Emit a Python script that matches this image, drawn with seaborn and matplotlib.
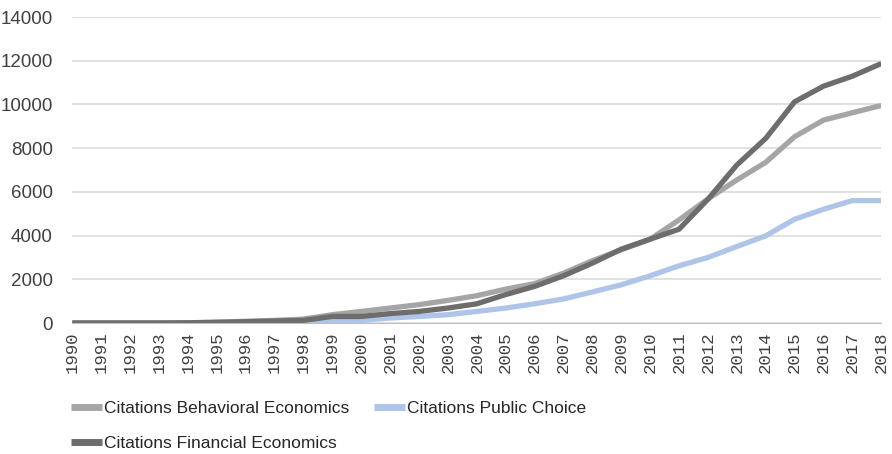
import pandas as pd
import matplotlib
matplotlib.use("Agg")
import matplotlib.pyplot as plt
import seaborn as sns

years = list(range(1990, 2019))

# citations per year
behavioral = [0, 0, 0, 0, 10, 40, 80, 120, 180, 380, 530, 685, 840, 1035, 1250,
              1550, 1800, 2280, 2850, 3350, 3836, 4718, 5677, 6545, 7352,
              8524, 9285, 9620, 9954]
public_choice = [0, 0, 0, 0, 0, 0, 0, 0, 0, 76, 120, 230, 300, 380, 530,
                 685, 880, 1100, 1420, 1750, 2161, 2618, 2998, 3501, 3988,
                 4749, 5205, 5601, 5601]
financial = [0, 0, 0, 0, 10, 30, 60, 90, 120, 300, 300, 430, 530, 685, 880,
             1300, 1675, 2160, 2740, 3379, 3836, 4292, 5662, 7230, 8447,
             10122, 10837, 11294, 11872]

labels = ["Citations Behavioral Economics", "Citations Financial Economics",
          "Citations Public Choice"]
colors = ["#a5a5a5", "#6f6c6c", "#aec4e8"]

df = pd.DataFrame({
    "year": years * 3,
    "citations": behavioral + financial + public_choice,
    "series": [labels[0]] * len(years) + [labels[1]] * len(years) + [labels[2]] * len(years),
})

sns.set_style("white")
plt.rcParams["font.family"] = ["Liberation Sans", "DejaVu Sans"]

fig = plt.figure(figsize=(8.92, 4.54), dpi=100)
ax = fig.add_axes([0.081, 0.2885, 0.907, 0.674])

# draw in z-order: blue first, then behavioral, then financial on top
order = [labels[2], labels[0], labels[1]]
pal = dict(zip(labels, colors))
for name in order:
    sub = df[df["series"] == name]
    sns.lineplot(data=sub, x="year", y="citations", color=pal[name], lw=3.8,
                 ax=ax, label=name, solid_joinstyle="miter", solid_capstyle="butt")

ax.set_xlim(1990, 2018)
ax.set_ylim(0, 14000)
ax.set_yticks(range(0, 14001, 2000))
ax.set_xticks(years)
ax.set_xticklabels([str(y) for y in years], rotation=90, family="Liberation Mono",
                   fontsize=12.5, color="#404040")
ax.tick_params(axis="y", length=0, labelsize=13.5, labelcolor="#404040", pad=14)
ax.tick_params(axis="x", length=4, color="#bfbfbf", width=0.8, pad=2)
ax.grid(axis="y", color="#d9d9d9", lw=1.1)
ax.set_axisbelow(True)
for s in ["top", "right", "left"]:
    ax.spines[s].set_visible(False)
ax.spines["bottom"].set_color("#bfbfbf")
ax.set_xlabel("")
ax.set_ylabel("")

handles, labs = ax.get_legend_handles_labels()
hmap = dict(zip(labs, handles))
leg = ax.legend([hmap[l] for l in labels], labels, ncol=2, loc="upper left",
                bbox_to_anchor=(0.0796, 0.118), bbox_transform=fig.transFigure,
                frameon=False, fontsize=12.5, handlelength=1.8, handletextpad=0.1,
                columnspacing=1.4, labelspacing=1.15, borderaxespad=0, borderpad=0)
for text in leg.get_texts():
    text.set_color("#262626")
for line in leg.get_lines():
    line.set_linewidth(5)

fig.savefig("out.png", dpi=100)
